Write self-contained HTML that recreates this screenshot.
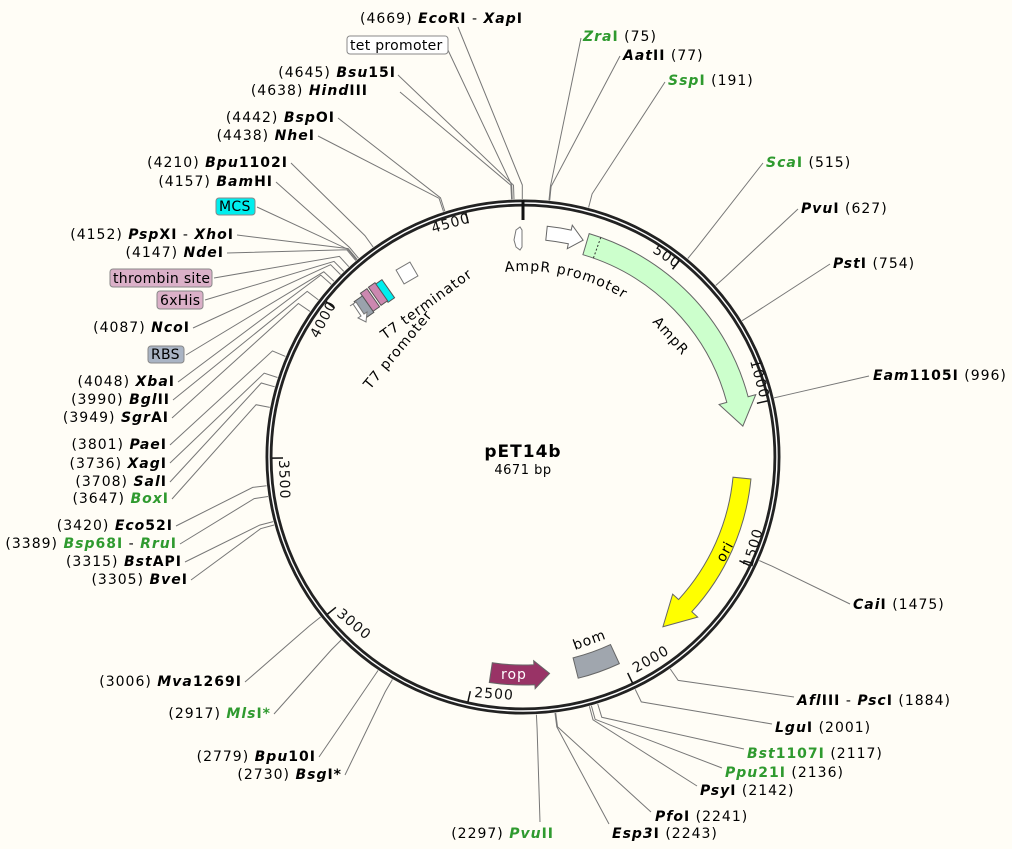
<!DOCTYPE html>
<html><head><meta charset="utf-8"><style>
html,body{margin:0;padding:0;background:#fffdf6;}
svg{display:block;font-family:"DejaVu Sans","Liberation Sans",sans-serif;font-size:14px;letter-spacing:1px;}
.n{font-weight:bold;}
.i{font-style:italic;}
.g{fill:#2f9a2f;}
</style></head><body>
<svg id="s" width="1012" height="849" viewBox="0 0 1012 849" xmlns="http://www.w3.org/2000/svg">
<rect width="1012" height="849" fill="#fffdf6"/>
<g id="lines" stroke="#777" stroke-width="1" fill="none"></g>
<circle cx="523" cy="457" r="254" fill="none" stroke="#222" stroke-width="7"/>
<circle cx="523" cy="457" r="254" fill="none" stroke="#fff" stroke-width="1.4"/>
<g id="geo"></g>
<!-- tick labels -->
<g font-size="14" fill="#111">
<text transform="translate(433,233) rotate(-16)">4500</text>
<text transform="translate(318,339) rotate(-62)">4000</text>
<text transform="translate(279,460) rotate(88)">3500</text>
<text transform="translate(336,615) rotate(40)">3000</text>
<text transform="translate(474,697) rotate(4)">2500</text>
<text transform="translate(636,673) rotate(-30)">2000</text>
<text transform="translate(752,568) rotate(-74)">1500</text>
<text transform="translate(750,361) rotate(75)">1000</text>
<text transform="translate(652,252) rotate(34)">500</text>
</g>
<!-- feature labels -->
<path id="ap" d="M 505 272 A 187 187 0 0 1 640 310" fill="none"/>
<text font-size="14"><textPath href="#ap">AmpR promoter</textPath></text>
<text font-size="14" transform="translate(652,322) rotate(48)">AmpR</text>
<text font-size="14" transform="translate(724,563) rotate(-62)">ori</text>
<text font-size="14" transform="translate(575,650) rotate(-20)">bom</text>
<text font-size="14" fill="#fff" transform="translate(501,679)">rop</text>
<text font-size="14" transform="translate(385,340) rotate(-36)">T7 terminator</text>
<text font-size="14" transform="translate(370,390) rotate(-50)">T7 promoter</text>
<text x="523" y="457" text-anchor="middle" font-weight="bold" font-size="17">pET14b</text>
<text x="523" y="474" text-anchor="middle" font-size="13" letter-spacing="0.5">4671 bp</text>
<!-- top -->
<text x="360" y="23">(4669)  <tspan class="n i">Eco</tspan><tspan class="n">RI</tspan> - <tspan class="n i">Xap</tspan><tspan class="n">I</tspan></text>
<rect x="347" y="36" width="101" height="18" rx="3" fill="#fff" stroke="#888"/>
<text x="350" y="50" letter-spacing="0.3">tet promoter</text>
<!-- left labels -->
<g text-anchor="end">
<text x="396" y="77">(4645)  <tspan class="n i">Bsu</tspan><tspan class="n">15I</tspan></text>
<text x="368" y="95">(4638)  <tspan class="n i">Hind</tspan><tspan class="n">III</tspan></text>
<text x="335" y="122">(4442)  <tspan class="n i">Bsp</tspan><tspan class="n">OI</tspan></text>
<text x="315" y="140">(4438)  <tspan class="n i">Nhe</tspan><tspan class="n">I</tspan></text>
<text x="288" y="167">(4210)  <tspan class="n i">Bpu</tspan><tspan class="n">1102I</tspan></text>
<text x="273" y="186">(4157)  <tspan class="n i">Bam</tspan><tspan class="n">HI</tspan></text>
<text x="234" y="239">(4152)  <tspan class="n i">Psp</tspan><tspan class="n">XI</tspan> - <tspan class="n i">Xho</tspan><tspan class="n">I</tspan></text>
<text x="224" y="257">(4147)  <tspan class="n i">Nde</tspan><tspan class="n">I</tspan></text>
<text x="190" y="332">(4087)  <tspan class="n i">Nco</tspan><tspan class="n">I</tspan></text>
<text x="175" y="386">(4048)  <tspan class="n i">Xba</tspan><tspan class="n">I</tspan></text>
<text x="170" y="404">(3990)  <tspan class="n i">Bgl</tspan><tspan class="n">II</tspan></text>
<text x="169" y="422">(3949)  <tspan class="n i">Sgr</tspan><tspan class="n">AI</tspan></text>
<text x="167" y="449">(3801)  <tspan class="n i">Pae</tspan><tspan class="n">I</tspan></text>
<text x="167" y="468">(3736)  <tspan class="n i">Xag</tspan><tspan class="n">I</tspan></text>
<text x="167" y="486">(3708)  <tspan class="n i">Sal</tspan><tspan class="n">I</tspan></text>
<text x="169" y="503">(3647)  <tspan class="n i g">Box</tspan><tspan class="n g">I</tspan></text>
<text x="173" y="530">(3420)  <tspan class="n i">Eco</tspan><tspan class="n">52I</tspan></text>
<text x="177" y="548">(3389)  <tspan class="n i g">Bsp</tspan><tspan class="n g">68I</tspan> - <tspan class="n i g">Rru</tspan><tspan class="n g">I</tspan></text>
<text x="182" y="566">(3315)  <tspan class="n i">Bst</tspan><tspan class="n">API</tspan></text>
<text x="188" y="584">(3305)  <tspan class="n i">Bve</tspan><tspan class="n">I</tspan></text>
<text x="242" y="686">(3006)  <tspan class="n i">Mva</tspan><tspan class="n">1269I</tspan></text>
<text x="271" y="718">(2917)  <tspan class="n i g">Mls</tspan><tspan class="n g">I*</tspan></text>
<text x="316" y="761">(2779)  <tspan class="n i">Bpu</tspan><tspan class="n">10I</tspan></text>
<text x="342" y="779">(2730)  <tspan class="n i">Bsg</tspan><tspan class="n">I*</tspan></text>
<text x="554" y="838">(2297)  <tspan class="n i g">Pvu</tspan><tspan class="n g">II</tspan></text>
</g>
<rect x="216" y="198" width="39" height="17" rx="3" fill="#00eeee" stroke="#888"/>
<text x="219" y="211" letter-spacing="0.3">MCS</text>
<rect x="110" y="269" width="102" height="18" rx="3" fill="#dbb0c8" stroke="#888"/>
<text x="113" y="283" letter-spacing="0.3">thrombin site</text>
<rect x="157" y="291" width="46" height="18" rx="3" fill="#dbb0c8" stroke="#888"/>
<text x="160" y="305" letter-spacing="0.3">6xHis</text>
<rect x="148" y="346" width="36" height="17" rx="3" fill="#aab4c4" stroke="#888"/>
<text x="151" y="359" letter-spacing="0.3">RBS</text>
<!-- right labels -->
<g>
<text x="583" y="41"><tspan class="n i g">Zra</tspan><tspan class="n g">I</tspan>  (75)</text>
<text x="623" y="60"><tspan class="n i">Aat</tspan><tspan class="n">II</tspan>  (77)</text>
<text x="668" y="85"><tspan class="n i g">Ssp</tspan><tspan class="n g">I</tspan>  (191)</text>
<text x="766" y="167"><tspan class="n i g">Sca</tspan><tspan class="n g">I</tspan>  (515)</text>
<text x="801" y="213"><tspan class="n i">Pvu</tspan><tspan class="n">I</tspan>  (627)</text>
<text x="833" y="268"><tspan class="n i">Pst</tspan><tspan class="n">I</tspan>  (754)</text>
<text x="873" y="380"><tspan class="n i">Eam</tspan><tspan class="n">1105I</tspan>  (996)</text>
<text x="853" y="609"><tspan class="n i">Cai</tspan><tspan class="n">I</tspan>  (1475)</text>
<text x="797" y="705"><tspan class="n i">Afl</tspan><tspan class="n">III</tspan> - <tspan class="n i">Psc</tspan><tspan class="n">I</tspan>  (1884)</text>
<text x="775" y="732"><tspan class="n i">Lgu</tspan><tspan class="n">I</tspan>  (2001)</text>
<text x="747" y="758"><tspan class="n i g">Bst</tspan><tspan class="n g">1107I</tspan>  (2117)</text>
<text x="725" y="777"><tspan class="n i g">Ppu</tspan><tspan class="n g">21I</tspan>  (2136)</text>
<text x="700" y="795"><tspan class="n i">Psy</tspan><tspan class="n">I</tspan>  (2142)</text>
<text x="655" y="821"><tspan class="n i">Pfo</tspan><tspan class="n">I</tspan>  (2241)</text>
<text x="612" y="838"><tspan class="n i">Esp3</tspan><tspan class="n">I</tspan>  (2243)</text>
</g>
<!-- small T7 features -->
<rect x="399" y="265" width="16" height="16" fill="#fff" stroke="#777" transform="rotate(-30 407 273)"/>
<rect x="381" y="280" width="8" height="22" fill="#00eeee" stroke="#555" transform="rotate(-35 385 291)"/>
<rect x="374" y="283" width="8" height="22" fill="#cc88b0" stroke="#555" transform="rotate(-35 378 294)"/>
<rect x="366" y="289" width="8" height="22" fill="#cc88b0" stroke="#555" transform="rotate(-35 370 300)"/>
<rect x="359" y="297" width="10" height="20" fill="#9aa2ac" stroke="#555" transform="rotate(-35 364 307)"/>
<polygon points="350,306 356,302 364,314 367,312 366,322 358,318 361,316 353,304" fill="#fff" stroke="#777"/>
<polygon points="516,230 520,227 522,230 522,247 520,250 516,247 514,240" fill="#fff" stroke="#777"/>
</svg>
<script>
(function(){
var cx=523,cy=457,N=4671,ns="http://www.w3.org/2000/svg";
function P(a,r){a=a*Math.PI/180;return [cx+r*Math.sin(a),cy-r*Math.cos(a)];}
function A(p){return p/N*360;}
function el(t,at,par){var e=document.createElementNS(ns,t);for(var k in at)e.setAttribute(k,at[k]);document.getElementById(par).appendChild(e);return e;}
var sites=[[4669,458,27],[4640,447,48],[4645,398,75],[4638,400,92],[4442,338,118],[4438,318,136],[4210,291,163],[4157,276,182],[4150,257,207],[4152,237,235],[4147,227,253],[4120,214,278],[4100,205,300],[4087,193,328],[4060,186,355],[4048,178,382],[3990,173,400],[3949,172,418],[3801,170,445],[3736,170,463],[3708,170,482],[3647,172,499],[3420,176,526],[3389,180,544],[3315,185,562],[3305,191,580],[3006,245,682],[2917,274,714],[2779,319,757],[2730,345,775],[2297,540,822],[2243,609,824],[2241,651,812],[2142,697,786],[2136,722,768],[2117,744,749],[2001,772,724],[1884,794,697],[1475,850,604],[996,869,376],[754,830,264],[627,798,209],[515,763,163],[191,665,82],[77,620,56],[75,581,38]];
sites.forEach(function(s){var a=A(s[0]);var k=P(a,272),c=P(a,258);
el("polyline",{points:s[1]+","+s[2]+" "+k[0].toFixed(1)+","+k[1].toFixed(1)+" "+c[0].toFixed(1)+","+c[1].toFixed(1)},"lines");});
for(var p=500;p<N;p+=500){var a=A(p),u=P(a,251),v=P(a,240);el("line",{x1:u[0],y1:u[1],x2:v[0],y2:v[1],stroke:"#111","stroke-width":1.5},"geo");}
el("line",{x1:cx,y1:cy-257,x2:cx,y2:cy-237,stroke:"#111","stroke-width":3},"geo");
function arc(r,a1,a2){var p=P(a2,r);var large=Math.abs(a2-a1)>180?1:0;var sw=a2>a1?1:0;return "A"+r+" "+r+" 0 "+large+" "+sw+" "+p[0].toFixed(1)+" "+p[1].toFixed(1);}
function arrow(r,w,tail,tip,h,f,fill){var d=tip>tail?1:-1;var hb=tip-d*h;var ro=r+w/2,ri=r-w/2;
var s=P(tail,ro),b1=P(hb,ro+f),t=P(tip,r),b2=P(hb,ri-f),b3=P(hb,ri);
var path="M"+s[0]+" "+s[1]+arc(ro,tail,hb)+"L"+b1[0]+" "+b1[1]+"L"+t[0]+" "+t[1]+"L"+b2[0]+" "+b2[1]+"L"+b3[0]+" "+b3[1]+arc(ri,hb,tail)+"Z";
el("path",{d:path,fill:fill,stroke:"#666","stroke-width":1},"geo");}
arrow(222,22,16.5,82,7,8,"#ccffcc");
arrow(220,18,95.5,140.5,8,8,"#ffff00");
arrow(225,14,6,15.5,3.5,5,"#ffffff");
arrow(218,20,188.5,173,4,4,"#993366");
var a1=155,a2=166,b=[P(a1,228),P(a2,228),P(a2,207),P(a1,207)];
el("path",{d:"M"+b[0]+arc(228,a1,a2)+"L"+b[2]+arc(207,a2,a1)+"Z",fill:"#a0a6ae",stroke:"#666"},"geo");
var q1=P(19.5,233),q2=P(19.5,211);el("line",{x1:q1[0],y1:q1[1],x2:q2[0],y2:q2[1],stroke:"#333","stroke-dasharray":"2,2"},"geo");
})();
</script>
</body></html>
